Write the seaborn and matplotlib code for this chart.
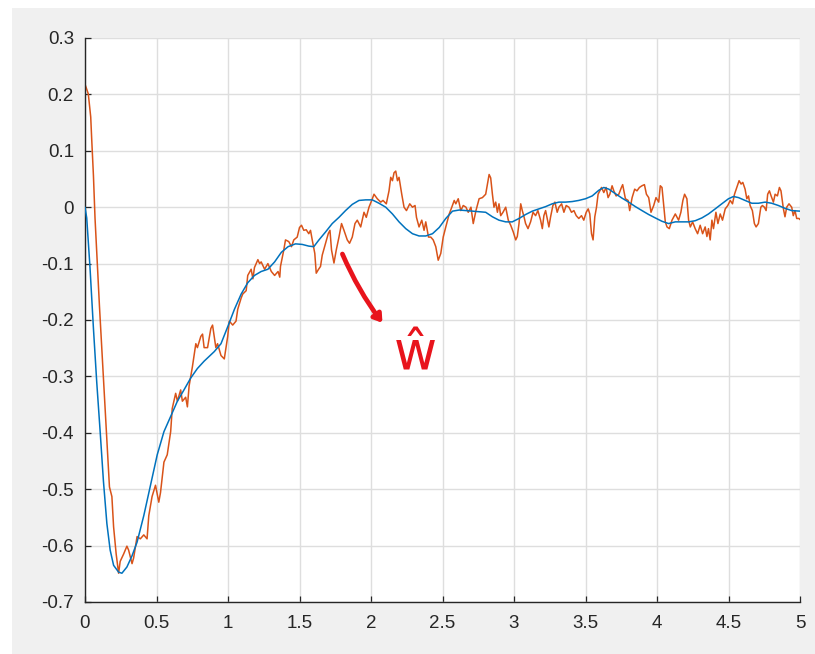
import numpy as np
import pandas as pd
import matplotlib
matplotlib.use("Agg")
import matplotlib.pyplot as plt
from matplotlib.patches import Rectangle
import seaborn as sns

# Estimated (smooth) response
t_est = [0.000, 0.012, 0.035, 0.059, 0.082, 0.106, 0.129, 0.153, 0.176, 0.200,
         0.235, 0.258, 0.293, 0.329, 0.364, 0.411, 0.458, 0.505, 0.552, 0.599,
         0.646, 0.692, 0.739, 0.786, 0.833, 0.904, 0.951, 0.998, 1.045, 1.092,
         1.138, 1.185, 1.232, 1.279, 1.326, 1.373, 1.420, 1.472, 1.519, 1.565,
         1.600, 1.636, 1.682, 1.729, 1.776, 1.822, 1.869, 1.916, 1.963, 2.009,
         2.056, 2.103, 2.150, 2.196, 2.243, 2.290, 2.336, 2.383, 2.430, 2.477,
         2.523, 2.570, 2.617, 2.664, 2.710, 2.802, 2.849, 2.895, 2.942, 2.988,
         3.035, 3.081, 3.128, 3.174, 3.221, 3.267, 3.314, 3.360, 3.407, 3.453,
         3.500, 3.547, 3.593, 3.628, 3.663, 3.709, 3.756, 3.802, 3.849, 3.895,
         3.942, 3.988, 4.035, 4.081, 4.128, 4.174, 4.221, 4.267, 4.314, 4.360,
         4.407, 4.453, 4.500, 4.535, 4.570, 4.616, 4.663, 4.709, 4.756, 4.802,
         4.849, 4.895, 4.942, 5.000]
w_est = [0.000, -0.019, -0.107, -0.215, -0.310, -0.398, -0.486, -0.561, -0.608, -0.635,
         -0.647, -0.649, -0.638, -0.618, -0.594, -0.547, -0.493, -0.439, -0.398, -0.371,
         -0.344, -0.324, -0.303, -0.286, -0.273, -0.256, -0.242, -0.212, -0.181, -0.154,
         -0.134, -0.121, -0.114, -0.110, -0.097, -0.080, -0.070, -0.065, -0.066, -0.069,
         -0.070, -0.058, -0.044, -0.029, -0.018, -0.006, 0.005, 0.012, 0.013, 0.013,
         0.007, 0.000, -0.012, -0.026, -0.038, -0.047, -0.051, -0.051, -0.047, -0.036,
         -0.020, -0.007, -0.005, -0.006, -0.007, -0.009, -0.017, -0.023, -0.026, -0.026,
         -0.020, -0.013, -0.007, -0.003, 0.001, 0.006, 0.009, 0.009, 0.010, 0.012,
         0.015, 0.020, 0.030, 0.035, 0.032, 0.024, 0.016, 0.009, 0.001, -0.006,
         -0.013, -0.019, -0.025, -0.029, -0.026, -0.026, -0.026, -0.024, -0.019, -0.012,
         -0.003, 0.006, 0.015, 0.019, 0.017, 0.012, 0.007, 0.007, 0.009, 0.007,
         0.003, -0.002, -0.006, -0.007]

# Measured (noisy) response
t_meas = [0.000, 0.023, 0.040, 0.047, 0.059, 0.070, 0.082, 0.101, 0.117, 0.136,
          0.153, 0.171, 0.188, 0.200, 0.218, 0.235, 0.246, 0.270, 0.293, 0.305,
          0.329, 0.340, 0.364, 0.387, 0.411, 0.434, 0.446, 0.469, 0.493, 0.516,
          0.528, 0.552, 0.575, 0.599, 0.610, 0.634, 0.646, 0.669, 0.681, 0.704,
          0.716, 0.728, 0.751, 0.775, 0.786, 0.810, 0.822, 0.833, 0.857, 0.880,
          0.892, 0.915, 0.927, 0.951, 0.974, 0.986, 0.998, 1.009, 1.033, 1.056,
          1.068, 1.092, 1.103, 1.127, 1.138, 1.162, 1.174, 1.185, 1.209, 1.221,
          1.232, 1.256, 1.279, 1.303, 1.326, 1.350, 1.362,
          1.367, 1.390, 1.402, 1.425, 1.444, 1.460, 1.484, 1.500, 1.514, 1.530,
          1.547, 1.565, 1.577, 1.589, 1.607, 1.617, 1.631, 1.647, 1.659, 1.682,
          1.701, 1.713, 1.724, 1.741, 1.757, 1.776, 1.794, 1.811, 1.834, 1.850,
          1.869, 1.888, 1.904, 1.928, 1.951, 1.967, 1.986, 2.005, 2.021, 2.044,
          2.068, 2.084, 2.107, 2.126, 2.138, 2.150, 2.161, 2.173, 2.185, 2.196,
          2.215, 2.231, 2.248, 2.271, 2.290, 2.308, 2.318, 2.336, 2.355, 2.371,
          2.383, 2.402, 2.418, 2.435, 2.453, 2.470, 2.488, 2.505, 2.523, 2.547,
          2.565, 2.582, 2.593, 2.610, 2.628, 2.645, 2.664, 2.680, 2.699, 2.715,
          2.734,
          2.756, 2.779, 2.802, 2.814, 2.826, 2.837, 2.849, 2.860, 2.872, 2.884,
          2.895, 2.907, 2.923, 2.942, 2.960, 2.977, 2.995, 3.012, 3.023, 3.035,
          3.047, 3.058, 3.070, 3.081, 3.098, 3.116, 3.133, 3.151, 3.167, 3.186,
          3.198, 3.209, 3.221, 3.244, 3.256, 3.272, 3.286, 3.302, 3.314, 3.333,
          3.349, 3.365, 3.384, 3.402, 3.419, 3.435, 3.453, 3.472, 3.488, 3.505,
          3.519, 3.530, 3.542, 3.553, 3.565, 3.577, 3.588, 3.600, 3.612, 3.628,
          3.644, 3.658, 3.670, 3.686, 3.698, 3.714, 3.733, 3.751, 3.760, 3.779,
          3.798, 3.809, 3.826, 3.844, 3.860, 3.877, 3.895, 3.912, 3.926, 3.942,
          3.958, 3.977, 3.993, 4.012, 4.023, 4.035, 4.047, 4.058, 4.070, 4.086,
          4.105, 4.128, 4.151, 4.167, 4.181, 4.193, 4.209, 4.221, 4.233, 4.249,
          4.267, 4.284, 4.302, 4.319, 4.337, 4.349, 4.360, 4.372, 4.384, 4.395,
          4.412, 4.426, 4.442, 4.458, 4.477, 4.495, 4.512, 4.528, 4.542, 4.558,
          4.574, 4.588, 4.600, 4.616, 4.628, 4.640, 4.651, 4.667, 4.681, 4.693,
          4.709, 4.726, 4.737, 4.751, 4.763, 4.774, 4.786, 4.798, 4.814, 4.826,
          4.842, 4.856, 4.867, 4.884, 4.895, 4.907, 4.923, 4.942, 4.953, 4.965,
          4.977, 4.993, 5.000]
w_meas = [0.218, 0.201, 0.160, 0.120, 0.056, -0.019, -0.080, -0.175, -0.249, -0.337,
          -0.418, -0.496, -0.513, -0.567, -0.615, -0.649, -0.628, -0.615, -0.601, -0.608,
          -0.632, -0.622, -0.584, -0.588, -0.581, -0.588, -0.547, -0.513, -0.493, -0.523,
          -0.506, -0.452, -0.439, -0.398, -0.357, -0.330, -0.344, -0.324, -0.344, -0.337,
          -0.354, -0.317, -0.283, -0.242, -0.249, -0.229, -0.225, -0.249, -0.249, -0.215,
          -0.209, -0.249, -0.242, -0.263, -0.269, -0.249, -0.229, -0.202, -0.209, -0.202,
          -0.181, -0.161, -0.154, -0.148, -0.121, -0.110, -0.127, -0.107, -0.093, -0.100,
          -0.097, -0.110, -0.100, -0.114, -0.121, -0.114, -0.124,
          -0.105, -0.076, -0.058, -0.061, -0.070, -0.058, -0.053, -0.036, -0.032, -0.041,
          -0.040, -0.047, -0.041, -0.058, -0.082, -0.117, -0.111, -0.105, -0.085, -0.064,
          -0.047, -0.041, -0.076, -0.099, -0.076, -0.053, -0.029, -0.041, -0.058, -0.064,
          -0.053, -0.029, -0.023, -0.035, -0.009, -0.018, 0.000, 0.012, 0.023, 0.015,
          0.009, 0.012, 0.006, 0.029, 0.053, 0.047, 0.061, 0.064, 0.047, 0.053,
          0.023, 0.000, -0.006, 0.006, 0.000, 0.003, -0.018, -0.035, -0.023, -0.041,
          -0.026, -0.053, -0.053, -0.058, -0.070, -0.094, -0.082, -0.053, -0.035, -0.012,
          0.000, 0.012, 0.006, 0.015, -0.006, 0.003, 0.000, -0.009, 0.000, -0.029,
          -0.006,
          0.015, 0.017, 0.023, 0.041, 0.058, 0.052, 0.023, 0.000, 0.009, -0.009,
          0.006, -0.015, -0.009, 0.000, -0.023, -0.032, -0.044, -0.058, -0.052, -0.029,
          0.006, -0.006, -0.017, -0.029, -0.038, -0.026, -0.009, -0.015, -0.006, -0.023,
          -0.038, -0.015, -0.006, -0.035, -0.017, 0.003, 0.009, -0.009, 0.000, 0.006,
          -0.009, 0.003, 0.000, -0.009, -0.006, -0.015, -0.020, -0.015, -0.023, -0.009,
          -0.003, -0.012, -0.047, -0.058, -0.017, 0.000, 0.023, 0.029, 0.035, 0.026,
          0.035, 0.017, 0.023, 0.038, 0.029, 0.020, 0.023, 0.035, 0.040, 0.015,
          0.012, -0.006, 0.017, 0.032, 0.029, 0.035, 0.038, 0.040, 0.023, 0.017,
          -0.009, 0.003, 0.017, 0.009, 0.038, 0.035, 0.003, -0.026, -0.035, -0.038,
          -0.023, -0.012, -0.023, -0.009, 0.012, 0.023, 0.015, -0.023, -0.035, -0.026,
          -0.038, -0.047, -0.032, -0.047, -0.035, -0.052, -0.038, -0.058, -0.023, -0.038,
          -0.009, -0.029, -0.012, -0.023, -0.003, 0.003, 0.012, 0.006, 0.023, 0.035,
          0.047, 0.041, 0.044, 0.032, 0.015, 0.020, 0.003, -0.006, -0.029, -0.035,
          -0.029, 0.000, 0.003, 0.000, -0.006, 0.023, 0.029, 0.020, 0.009, 0.023,
          0.020, 0.035, 0.029, -0.003, -0.017, 0.000, 0.006, 0.000, -0.015, -0.006,
          -0.020, -0.020, -0.022]

x_ticks = [0, 0.5, 1, 1.5, 2, 2.5, 3, 3.5, 4, 4.5, 5]
x_ticklabels = ["0", "0.5", "1", "1.5", "2", "2.5", "3", "3.5", "4", "4.5", "5"]
y_ticks = [-0.7, -0.6, -0.5, -0.4, -0.3, -0.2, -0.1, 0, 0.1, 0.2, 0.3]
y_ticklabels = ["-0.7", "-0.6", "-0.5", "-0.4", "-0.3", "-0.2", "-0.1", "0", "0.1", "0.2", "0.3"]

est = pd.DataFrame({"t": t_est, "w": w_est})
meas = pd.DataFrame({"t": t_meas, "w": w_meas})

sns.set_style("white")
plt.rcParams["font.family"] = ["Liberation Sans", "DejaVu Sans"]

BLUE = "#0072BD"
ORANGE = "#D95319"
GRID = "#dedede"
AXIS = "#262626"
PANEL = "#f0f0f0"
INK = "#e8141c"

fig = plt.figure(figsize=(8.15, 6.54), dpi=100, facecolor="white")
fig.patches.append(Rectangle((12 / 815, 0), 1 - 12 / 815, 1 - 8 / 654,
                             transform=fig.transFigure, facecolor=PANEL,
                             edgecolor="none", zorder=-10))
ax = fig.add_axes([85 / 815, 52 / 654, 715 / 815, 564 / 654])
ax.set_facecolor("white")

sns.lineplot(data=est, x="t", y="w", ax=ax, color=BLUE, lw=1.1,
             estimator=None, sort=False, zorder=3)
sns.lineplot(data=meas, x="t", y="w", ax=ax, color=ORANGE, lw=1.1,
             estimator=None, sort=False, zorder=2)

ax.set_xlim(0, 5)
ax.set_ylim(-0.7, 0.3)
ax.set_xticks(x_ticks)
ax.set_xticklabels(x_ticklabels)
ax.set_yticks(y_ticks)
ax.set_yticklabels(y_ticklabels)
ax.set_xlabel("")
ax.set_ylabel("")

ax.grid(True, color=GRID, lw=1.0, zorder=0)
ax.set_axisbelow(True)
for side in ["top", "right"]:
    ax.spines[side].set_visible(False)
for side in ["left", "bottom"]:
    ax.spines[side].set_color(AXIS)
    ax.spines[side].set_linewidth(1.0)
ax.tick_params(axis="both", direction="in", length=4, width=0.9, color=AXIS,
               labelsize=13.5, labelcolor=AXIS, left=True, bottom=True)
ax.tick_params(axis="x", pad=9)
ax.tick_params(axis="y", pad=8)

# Hand-drawn style note pointing at the noisy trace
ax.annotate("", xy=(2.08, -0.205), xytext=(1.80, -0.083),
            arrowprops=dict(arrowstyle="-|>,head_length=0.45,head_width=0.3",
                            color=INK, lw=3.4, shrinkA=0, shrinkB=0,
                            connectionstyle="arc3,rad=0.06",
                            capstyle="round", joinstyle="round"),
            zorder=5)
ax.text(2.31, -0.262, "ŵ", color=INK, fontsize=38, ha="center", va="center",
        family=["DejaVu Sans"], zorder=5)

fig.savefig("out.png", dpi=100, facecolor=fig.get_facecolor())
